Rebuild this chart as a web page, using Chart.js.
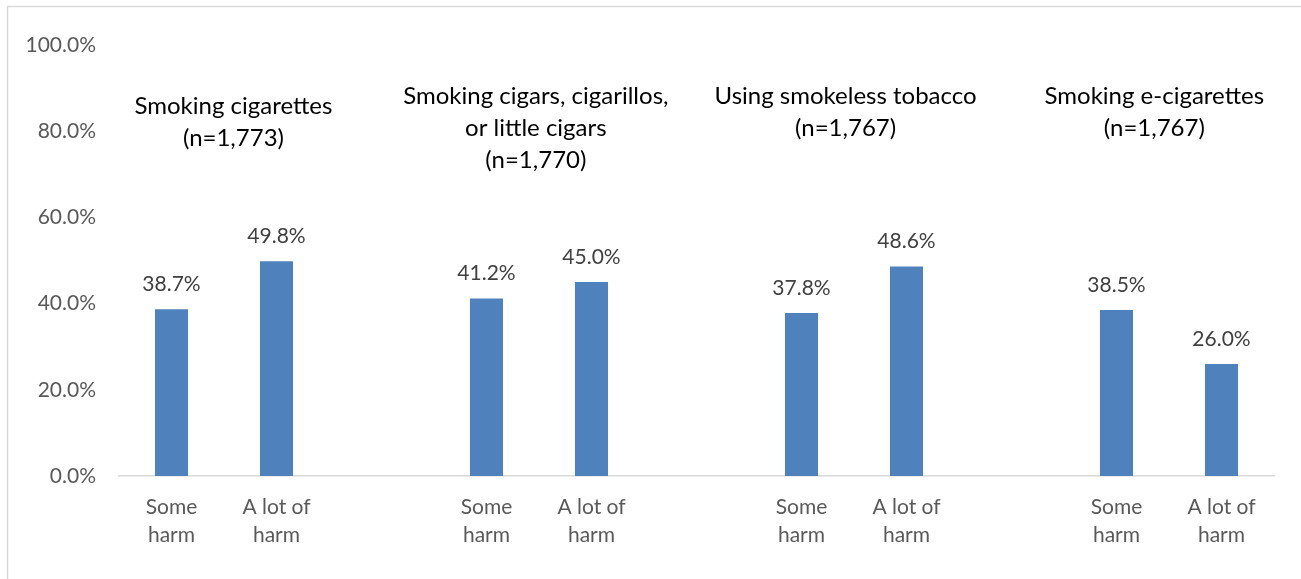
<!DOCTYPE html>
<html>
<head>
<meta charset="utf-8">
<script src="https://cdn.jsdelivr.net/npm/chart.js@4/dist/chart.umd.min.js"></script>
<style>
  html, body { margin: 0; padding: 0; background: #fff; }
  canvas { display: block; }
</style>
</head>
<body>
<canvas id="c" width="1301" height="579"></canvas>
<script>
// ---- data ----
const groupTitles = [
  ["Smoking cigarettes", "(n=1,773)"],
  ["Smoking cigars, cigarillos,", "or little cigars", "(n=1,770)"],
  ["Using smokeless tobacco", "(n=1,767)"],
  ["Smoking e-cigarettes", "(n=1,767)"]
];
const responses = [["Some", "harm"], ["A lot of", "harm"]];
const someHarm = [38.7, 41.2, 37.8, 38.5];
const aLotOfHarm = [49.8, 45.0, 48.6, 26.0];
const yTicks = [0, 20, 40, 60, 80, 100];

// ---- build category layout (two bars per group, blank slot between groups) ----
const labels = [];
const values = [];
groupTitles.forEach((g, i) => {
  if (i > 0) { labels.push(""); values.push(null); }
  labels.push(responses[0]); values.push(someHarm[i]);
  labels.push(responses[1]); values.push(aLotOfHarm[i]);
});

// title placement (category-index offset from group's first bar, value units)
const titleStyle = { offsets: [0.59, 0.47, 0.42, 0.36], topValue: [85.7, 88.0, 88.0, 88.0], lineHeight: 32 };

const FONT = "Lato, 'Open Sans', sans-serif";

const decor = {
  id: 'decor',
  beforeDraw(chart) {
    const ctx = chart.ctx;
    ctx.save();
    ctx.fillStyle = '#fff';
    ctx.fillRect(0, 0, chart.width, chart.height);
    ctx.strokeStyle = '#d9d9d9';
    ctx.lineWidth = 1.5;
    ctx.beginPath();
    ctx.moveTo(7.5, chart.height + 2);
    ctx.lineTo(7.5, 6.5);
    ctx.lineTo(chart.width + 2, 6.5);
    ctx.stroke();
    ctx.restore();
  },
  afterDatasetsDraw(chart) {
    const ctx = chart.ctx;
    const xs = chart.scales.x, ys = chart.scales.y;
    const meta = chart.getDatasetMeta(0);
    ctx.save();
    // data labels
    ctx.font = "21px " + FONT;
    ctx.fillStyle = '#404040';
    ctx.textAlign = 'center';
    ctx.textBaseline = 'middle';
    meta.data.forEach((bar, i) => {
      const v = values[i];
      if (v === null || v === undefined) return;
      ctx.fillText(v.toFixed(1) + '%', bar.x, bar.y - 25);
    });
    // group titles
    ctx.font = "24px " + FONT;
    ctx.fillStyle = '#000';
    groupTitles.forEach((lines, gi) => {
      const x = xs.getPixelForValue(gi * 3 + titleStyle.offsets[gi]);
      const y0 = ys.getPixelForValue(titleStyle.topValue[gi]);
      lines.forEach((ln, li) => ctx.fillText(ln, x, y0 + li * titleStyle.lineHeight));
    });
    ctx.restore();
  }
};

new Chart(document.getElementById('c'), {
  type: 'bar',
  data: {
    labels: labels,
    datasets: [{
      data: values,
      backgroundColor: '#4f81bd',
      barPercentage: 0.315,
      categoryPercentage: 1.0
    }]
  },
  options: {
    responsive: false,
    animation: false,
    devicePixelRatio: 1,
    layout: { padding: { top: 45, right: 27, bottom: 0, left: 0 } },
    plugins: { legend: { display: false }, tooltip: { enabled: false } },
    scales: {
      x: {
        grid: { display: false, drawTicks: false },
        border: { display: true, color: '#d9d9d9', width: 1.5 },
        ticks: {
          color: '#595959',
          font: { family: FONT, size: 21, lineHeight: '28px' },
          padding: 17,
          maxRotation: 0,
          autoSkip: false
        },
        afterFit(scale) { scale.height = 579 - 476; }
      },
      y: {
        min: 0, max: 100,
        afterBuildTicks(scale) { scale.ticks = yTicks.map(v => ({ value: v })); },
        grid: { display: false, drawTicks: false },
        border: { display: false },
        ticks: {
          color: '#595959',
          font: { family: FONT, size: 21 },
          padding: 23,
          callback: v => Number(v).toFixed(1) + '%'
        },
        afterFit(scale) { scale.width = 119; }
      }
    }
  },
  plugins: [decor]
});
</script>
</body>
</html>
